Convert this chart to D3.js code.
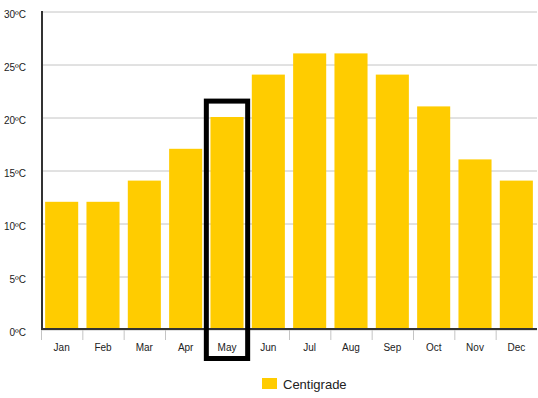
<!DOCTYPE html>
<html>
<head>
<meta charset="utf-8">
<script src="https://cdn.jsdelivr.net/npm/d3@7"></script>
<style>
  body { margin: 0; background: #fff; }
  svg { display: block; font-family: "Liberation Sans", Arial, sans-serif; }
  .grid line { stroke: #c4c4c4; stroke-width: 1; }
  .grid .domain { display: none; }
  .ylab text { font-size: 10px; fill: #222; }
  .xaxis text { font-size: 10px; fill: #222; }
</style>
</head>
<body>
<script>
var months = ["Jan", "Feb", "Mar", "Apr", "May", "Jun", "Jul", "Aug", "Sep", "Oct", "Nov", "Dec"];
var centigrade = [12, 12, 14, 17, 20, 24, 26, 26, 24, 21, 16, 14];
var yTicks = [0, 5, 10, 15, 20, 25, 30];
var highlightMonth = "May";

(function(){
    var width = 538, height = 398;
    //plot area edges
    var plotLeft = 41, plotRight = 537, plotTop = 11, plotBottom = 329;

    var svg = d3.select("body").append("svg")
        .attr("width", width)
        .attr("height", height);

    var x = d3.scaleBand()
        .domain(months)
        .range([plotLeft, plotRight])
        .paddingInner(0.2)
        .paddingOuter(0.1);

    //band edges for tick marks (no padding)
    var xEdge = d3.scaleBand()
        .domain(months)
        .range([plotLeft, plotRight]);

    var y = d3.scaleLinear()
        .domain([0, 30])
        .range([plotBottom, plotTop]);

    //horizontal gridlines
    svg.append("g")
        .attr("class", "grid")
        .attr("transform", "translate(" + plotLeft + ",0.5)")
        .call(d3.axisRight(y).tickValues(yTicks).tickSize(plotRight - plotLeft).tickFormat(""));

    //y labels
    svg.append("g")
        .attr("class", "ylab")
        .selectAll("text")
        .data(yTicks)
        .enter()
        .append("text")
        .attr("x", 26)
        .attr("y", function(d){ return y(d) + 3; })
        .attr("dy", "0.35em")
        .attr("text-anchor", "end")
        .text(function(d){ return d + "ºC"; });

    //bars
    svg.selectAll(".bar")
        .data(months)
        .enter()
        .append("rect")
        .attr("class", "bar")
        .attr("x", function(d){ return x(d); })
        .attr("width", x.bandwidth())
        .attr("y", function(d, i){ return y(centigrade[i]); })
        .attr("height", function(d, i){ return y(0) - y(centigrade[i]) - 1; })
        .attr("fill", "#ffcc00");

    //x tick marks at band edges
    svg.append("g")
        .selectAll("line")
        .data(months)
        .enter()
        .append("line")
        .attr("x1", function(d){ return xEdge(d) + 0.5; })
        .attr("x2", function(d){ return xEdge(d) + 0.5; })
        .attr("y1", plotBottom)
        .attr("y2", plotBottom + 11)
        .attr("stroke", "#c4c4c4");

    //month labels
    svg.append("g")
        .attr("class", "xaxis")
        .selectAll("text")
        .data(months)
        .enter()
        .append("text")
        .attr("x", function(d){ return xEdge(d) + xEdge.bandwidth() / 2; })
        .attr("y", 347)
        .attr("dy", "0.35em")
        .attr("text-anchor", "middle")
        .text(function(d){ return d; });

    //axis lines
    svg.append("line")
        .attr("x1", plotLeft).attr("x2", plotRight)
        .attr("y1", plotBottom).attr("y2", plotBottom)
        .attr("stroke", "#333").attr("stroke-width", 2);
    svg.append("line")
        .attr("x1", plotLeft + 1).attr("x2", plotLeft + 1)
        .attr("y1", plotTop).attr("y2", plotBottom + 1)
        .attr("stroke", "#333").attr("stroke-width", 2);

    //highlight box around May
    var hi = months.indexOf(highlightMonth);
    svg.append("rect")
        .attr("x", xEdge(highlightMonth))
        .attr("y", y(centigrade[hi] + 1.5))
        .attr("width", xEdge.bandwidth())
        .attr("height", 358.5 - y(centigrade[hi] + 1.5))
        .attr("fill", "none")
        .attr("stroke", "#000")
        .attr("stroke-width", 5);

    //legend
    var legend = svg.append("g").attr("transform", "translate(262,378)");
    legend.append("rect")
        .attr("width", 15)
        .attr("height", 11)
        .attr("fill", "#ffcc00");
    legend.append("text")
        .attr("x", 21)
        .attr("y", 6)
        .attr("dy", "0.35em")
        .style("font-size", "13px")
        .style("fill", "#222")
        .text("Centigrade");
})();
</script>
</body>
</html>
